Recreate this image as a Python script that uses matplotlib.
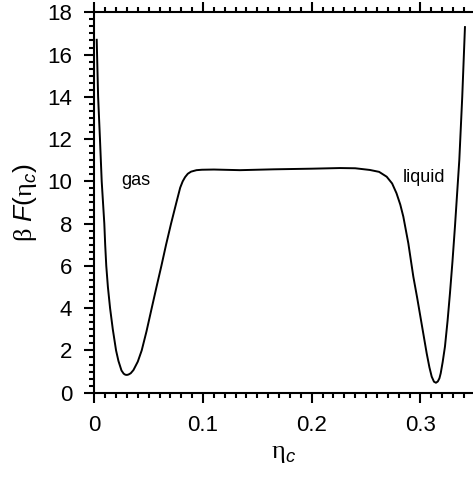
import matplotlib
matplotlib.use("Agg")
import matplotlib.pyplot as plt
from matplotlib.ticker import MultipleLocator

plt.rcParams['font.family'] = ['Liberation Sans', 'DejaVu Sans']
plt.rcParams['mathtext.fontset'] = 'custom'
plt.rcParams['mathtext.rm'] = 'Liberation Serif'
plt.rcParams['mathtext.it'] = 'Liberation Sans:italic'

# free energy curve
eta = [0.0022, 0.0035, 0.0052, 0.0068, 0.0080, 0.0092, 0.0100, 0.0110, 0.0125,
       0.0145, 0.0170, 0.0200, 0.0222, 0.0250, 0.0270, 0.0285, 0.0300, 0.0315,
       0.0335, 0.0360, 0.0400, 0.0436, 0.0480, 0.0528, 0.0572, 0.0617, 0.0660,
       0.0706, 0.0755, 0.0790, 0.0813, 0.0835, 0.0860, 0.0890, 0.0940, 0.0990,
       0.1100, 0.1340, 0.1650, 0.2000, 0.2260, 0.2400, 0.2535, 0.2620, 0.2690,
       0.2740, 0.2780, 0.2815, 0.2843, 0.2889, 0.2935, 0.2970, 0.3000, 0.3030,
       0.3058, 0.3083, 0.3104, 0.3125, 0.3143, 0.3160, 0.3175, 0.3187, 0.3205,
       0.3226, 0.3250, 0.3272, 0.3295, 0.3318, 0.3358, 0.3385, 0.3410]
betaF = [16.70, 14.00, 12.00, 10.00, 9.00, 8.00, 7.00, 6.00, 5.00,
         4.00, 3.00, 2.00, 1.50, 1.05, 0.90, 0.85, 0.84, 0.86,
         0.92, 1.07, 1.47, 2.00, 2.90, 4.00, 5.00, 6.00, 7.00,
         8.00, 9.00, 9.70, 10.00, 10.20, 10.36, 10.46, 10.53, 10.55,
         10.56, 10.53, 10.57, 10.60, 10.63, 10.62, 10.54, 10.45, 10.22,
         9.90, 9.44, 8.90, 8.33, 7.07, 5.49, 4.50, 3.60, 2.70,
         1.86, 1.20, 0.76, 0.52, 0.47, 0.53, 0.68, 0.92, 1.45,
         2.18, 3.40, 4.70, 6.20, 7.86, 11.01, 14.00, 17.30]

labels = ["gas", "liquid"]
label_x = [0.0381, 0.3030]
label_y = [10.05, 10.18]

fig = plt.figure(figsize=(4.73, 4.79), dpi=100)
ax = fig.add_axes([0.1994, 0.1802, 0.8006, 0.7941])
ax.plot(eta, betaF, color='black', lw=1.4, solid_joinstyle='round')

ax.set_xlim(0, 0.3484)
ax.set_ylim(0, 18)
ax.xaxis.set_major_locator(MultipleLocator(0.1))
ax.xaxis.set_minor_locator(MultipleLocator(0.01))
ax.yaxis.set_major_locator(MultipleLocator(2))
ax.yaxis.set_minor_locator(MultipleLocator(2/6))
ax.set_xticks([0, 0.1, 0.2, 0.3])
ax.set_xticklabels(['0', '0.1', '0.2', '0.3'])

for s in ['left', 'bottom', 'top']:
    ax.spines[s].set_linewidth(1.5)
ax.spines['right'].set_visible(False)

ax.tick_params(which='both', direction='out', top=True, right=False,
               labeltop=False, width=1.5)
ax.tick_params(which='major', length=7, labelsize=16, pad=9)
ax.tick_params(which='minor', length=3.5)

for t, x, y in zip(labels, label_x, label_y):
    ax.text(x, y, t, fontsize=13, ha='center', va='center')

ax.set_xlabel(r'$\mathrm{η}_{\mathit{c}}$', fontsize=19, labelpad=4)
ax.set_ylabel(r'$\mathrm{β}$ $\mathit{F}$($\mathrm{η}_{\mathit{c}}$)', fontsize=19, labelpad=6)

fig.savefig('out.png', dpi=100)
